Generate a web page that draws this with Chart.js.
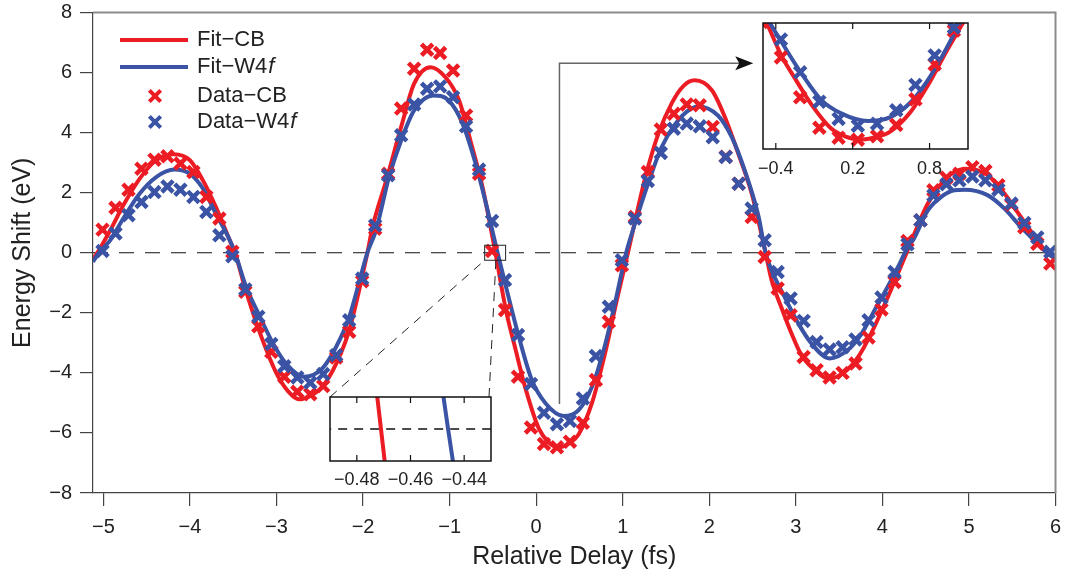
<!DOCTYPE html>
<html>
<head>
<meta charset="utf-8">
<script src="https://cdn.jsdelivr.net/npm/chart.js@4.4.0/dist/chart.umd.min.js"></script>
<style>
  html, body { margin: 0; padding: 0; background: #fff; }
  #wrap { position: relative; width: 1068px; height: 577px; }
  #wrap canvas { position: absolute; }
</style>
</head>
<body>
<div id="wrap">
  <canvas id="main" width="1068" height="577" style="left:0;top:0"></canvas>
  <canvas id="zoomTop" width="250" height="175" style="left:740px;top:10px"></canvas>
  <canvas id="zoomBottom" width="200" height="110" style="left:310px;top:385px"></canvas>
</div>
<script>
// ---- data ----
const delays = [
  -5.01, -4.86, -4.71, -4.56, -4.41, -4.26, -4.11, -3.96, -3.81, -3.66,
  -3.51, -3.36, -3.21, -3.06, -2.91, -2.76, -2.61, -2.46, -2.31, -2.16,
  -2.01, -1.86, -1.71, -1.56, -1.41, -1.26, -1.11, -0.96, -0.81, -0.66,
  -0.51, -0.36, -0.21, -0.06, 0.09, 0.24, 0.39, 0.54, 0.69, 0.84,
  0.99, 1.14, 1.29, 1.44, 1.59, 1.74, 1.89, 2.04, 2.19, 2.34,
  2.49, 2.64, 2.79, 2.94, 3.09, 3.24, 3.39, 3.54, 3.69, 3.84,
  3.99, 4.14, 4.29, 4.44, 4.59, 4.74, 4.89, 5.04, 5.19, 5.34,
  5.49, 5.64, 5.79, 5.94
];
const dataCB = [
  0.77, 1.50, 2.10, 2.80, 3.10, 3.21, 2.97, 2.69, 1.86, 1.14,
  0.03, -1.30, -2.45, -3.30, -4.13, -4.63, -4.71, -4.44, -3.49, -2.63,
  -0.95, 0.80, 2.63, 4.80, 6.13, 6.76, 6.65, 6.07, 4.57, 2.63,
  0.06, -1.91, -4.13, -5.82, -6.37, -6.48, -6.29, -5.66, -4.24, -2.30,
  -0.42, 1.19, 2.69, 4.10, 4.63, 4.94, 4.91, 4.19, 3.20, 2.30,
  1.19, -0.14, -1.19, -2.08, -3.47, -3.91, -4.15, -4.00, -3.69, -2.82,
  -1.89, -0.97, 0.39, 1.08, 2.08, 2.50, 2.63, 2.85, 2.72, 2.25,
  1.60, 0.85, 0.30, -0.36
];
const dataW4f = [
  0.06, 0.64, 1.25, 1.69, 2.02, 2.21, 2.10, 1.86, 1.36, 0.58,
  -0.12, -1.22, -2.13, -3.04, -3.78, -4.15, -4.33, -4.04, -3.41, -2.25,
  -0.86, 0.91, 2.58, 3.91, 4.94, 5.46, 5.54, 5.18, 4.21, 2.77,
  1.06, -0.91, -2.74, -4.37, -5.33, -5.71, -5.60, -4.85, -3.44, -1.80,
  -0.25, 1.14, 2.39, 3.32, 4.13, 4.30, 4.21, 3.85, 3.19, 2.30,
  1.47, 0.42, -0.64, -1.52, -2.27, -2.97, -3.22, -3.15, -2.89, -2.25,
  -1.49, -0.64, 0.28, 1.08, 1.91, 2.28, 2.41, 2.54, 2.41, 2.10,
  1.64, 0.99, 0.51, 0.03
];

const fitCbX = [
  -5.12, -5.07, -4.92, -4.77, -4.58, -4.39, -4.19, -4.00, -3.85, -3.70, -3.56, -3.48,
  -3.36, -3.23, -3.00, -2.87, -2.74, -2.60, -2.47, -2.31, -2.16, -1.95,
  -1.89, -1.72, -1.56, -1.41, -1.22, -1.05, -0.89, -0.76, -0.62, -0.471,
  -0.35, -0.24, -0.12, 0.03, 0.14, 0.26, 0.38, 0.49, 0.645, 0.80, 0.93, 1.06,
  1.26, 1.41, 1.57, 1.70, 1.83, 2.03, 2.18, 2.335, 2.49, 2.65,
  2.72, 2.83, 2.95, 3.065, 3.22, 3.37, 3.565, 3.72, 3.87, 4.03, 4.18, 4.28,
  4.37, 4.525, 4.68, 4.83, 4.97, 5.22, 5.41, 5.60, 5.79, 5.90, 6.00
];
const fitCbY = [
  -0.20, 0, 0.75, 1.58, 2.47, 3.08, 3.28, 3.08, 2.41, 1.52, 0.55, 0,
  -1.20, -2.36, -4.02, -4.60, -4.88, -4.75, -4.46, -3.69, -2.58, 0,
  0.86, 2.52, 4.19, 5.63, 6.18, 5.85, 5.07, 3.74, 2.19, 0,
  -1.90, -3.20, -4.55, -5.85, -6.30, -6.48, -6.35, -6.05, -5.00, -3.30, -1.60, 0,
  2.50, 3.95, 5.00, 5.55, 5.74, 5.41, 4.52, 3.30, 1.97, 0,
  -0.91, -1.80, -2.69, -3.41, -3.91, -4.19, -3.97, -3.47, -2.69, -1.69, -0.69, 0,
  0.64, 1.64, 2.30, 2.69, 2.80, 2.58, 1.97, 1.19, 0.42, 0, -0.19
];
const fitW4fX = [
  -5.12, -5.05, -4.92, -4.77, -4.58, -4.39, -4.18, -4.00, -3.85, -3.70, -3.54, -3.48,
  -3.35, -3.20, -3.04, -2.89, -2.68, -2.47, -2.31, -2.16, -1.95,
  -1.85, -1.70, -1.56, -1.41, -1.19, -1.01, -0.85, -0.70, -0.57, -0.446,
  -0.33, -0.20, -0.05, 0.11, 0.32, 0.49, 0.645, 0.78, 0.91, 1.04,
  1.145, 1.30, 1.45, 1.61, 1.74, 1.87, 2.10, 2.26, 2.41, 2.57, 2.65,
  2.72, 2.87, 3.03, 3.18, 3.39, 3.60, 3.76, 3.91, 4.06, 4.20, 4.26,
  4.37, 4.525, 4.68, 4.83, 4.95, 5.22, 5.41, 5.60, 5.79, 5.90, 6.00
];
const fitW4fY = [
  -0.30, 0, 0.42, 1.14, 1.97, 2.52, 2.77, 2.63, 2.14, 1.30, 0.42, 0,
  -1.14, -2.08, -3.02, -3.69, -4.13, -3.85, -3.13, -2.14, 0,
  0.75, 2.52, 3.74, 4.74, 5.24, 5.07, 4.30, 2.97, 1.52, 0,
  -1.35, -2.80, -4.24, -5.02, -5.44, -5.24, -4.46, -3.24, -1.69, 0,
  1.00, 2.36, 3.52, 4.30, 4.70, 4.87, 4.57, 3.85, 2.74, 1.20, 0,
  -0.58, -1.47, -2.36, -3.02, -3.52, -3.24, -2.69, -1.91, -1.14, -0.36, 0,
  0.50, 1.41, 1.86, 2.08, 2.10, 1.91, 1.47, 0.86, 0.31, 0, -0.20
];

const zeroX = [-5.12, 6];
const zeroY = [0, 0];

const xTicks = [-5, -4, -3, -2, -1, 0, 1, 2, 3, 4, 5, 6];
const yTicks = [-8, -6, -4, -2, 0, 2, 4, 6, 8];
const zoomTopTicks = [-0.4, 0.2, 0.8];
const zoomBottomTicks = [-0.48, -0.46, -0.44];

const legendLabels = ['Fit\u2212CB', 'Fit\u2212W4', 'Data\u2212CB', 'Data\u2212W4'];
const legendItalic = ['', 'f', '', 'f'];

// annotation anchors (data units of the main plot)
const boxX = [-0.595, -0.353];
const boxY = [-0.25, 0.25];
const arrowX = [0.269, 0.269, 2.508];
const arrowY = [-5.04, 6.31, 6.31];
const connectorEndX = -0.465;

// ---- styling ----
const RED = '#ec1c24';
const BLUE = '#3a53a4';
const FONT = "'Liberation Sans', Arial, Helvetica, sans-serif";
Chart.defaults.font.family = FONT;
Chart.defaults.color = '#222';
Chart.defaults.animation = false;

const minus = s => s.replace('-', '\u2212');
const pts = (xs, ys) => xs.map((x, i) => ({ x: x, y: ys[i] }));
// keep the plot box where the figure has it: no extra room for overhanging labels
const noOverhang = s => { s.paddingTop = 0; s.paddingBottom = 0; s.paddingLeft = 0; s.paddingRight = 0; };

function fitSet(label, xs, ys, color, order) {
  return {
    label: label, data: pts(xs, ys), showLine: true, pointRadius: 0,
    borderColor: color, borderWidth: 4, cubicInterpolationMode: 'monotone',
    order: order, clip: 0
  };
}
function dotSet(label, ys, color, order) {
  return {
    label: label, data: pts(delays, ys), showLine: false,
    pointStyle: 'crossRot', pointRadius: 8, pointBorderWidth: 4.5,
    pointBorderColor: color, pointBackgroundColor: color,
    order: order, clip: 0
  };
}
function zeroSet(dash, width) {
  return {
    label: 'zero', data: pts(zeroX, zeroY), showLine: true, pointRadius: 0,
    borderColor: '#111', borderWidth: width, borderDash: dash, order: 9
  };
}

// white plot area + black box with inward ticks for the insets
const insetFrame = {
  id: 'insetFrame',
  beforeDraw(chart) {
    const a = chart.chartArea, ctx = chart.ctx;
    ctx.save();
    ctx.fillStyle = '#fff';
    ctx.fillRect(a.left, a.top, a.right - a.left, a.bottom - a.top);
    ctx.restore();
  },
  afterDraw(chart) {
    const a = chart.chartArea, ctx = chart.ctx, sx = chart.scales.x;
    ctx.save();
    ctx.strokeStyle = '#111';
    ctx.lineWidth = 1.5;
    ctx.strokeRect(a.left, a.top, a.right - a.left, a.bottom - a.top);
    ctx.lineWidth = 1.2;
    sx.ticks.forEach(t => {
      const px = sx.getPixelForValue(t.value);
      ctx.beginPath();
      ctx.moveTo(px, a.bottom); ctx.lineTo(px, a.bottom - 6);
      ctx.moveTo(px, a.top); ctx.lineTo(px, a.top + 6);
      ctx.stroke();
    });
    ctx.restore();
  }
};

function insetOptions(xmin, xmax, ymin, ymax, ticks, digits, pad, axisH, tickPad) {
  return {
    responsive: false, devicePixelRatio: 1, events: [],
    layout: { padding: pad },
    plugins: { legend: { display: false }, tooltip: { enabled: false } },
    scales: {
      x: {
        type: 'linear', min: xmin, max: xmax,
        afterBuildTicks: s => { s.ticks = ticks.map(v => ({ value: v })); },
        afterFit: s => { s.height = axisH; noOverhang(s); },
        ticks: { font: { size: 18 }, color: '#222', padding: tickPad, maxRotation: 0,
                 callback: v => minus(v.toFixed(digits)) },
        grid: { display: false, drawTicks: false },
        border: { display: false }
      },
      y: { type: 'linear', min: ymin, max: ymax, display: false }
    }
  };
}

// ---- inset, upper right ----
const zoomTop = new Chart(document.getElementById('zoomTop'), {
  type: 'scatter',
  data: { datasets: [
    dotSet('Data\u2212W4f', dataW4f, BLUE, 1),
    dotSet('Data\u2212CB', dataCB, RED, 2),
    fitSet('Fit\u2212W4f', fitW4fX, fitW4fY, BLUE, 3),
    fitSet('Fit\u2212CB', fitCbX, fitCbY, RED, 4)
  ] },
  options: insetOptions(-0.5, 1.1, -7, 0, zoomTopTicks, 1,
    { left: 23, right: 22, top: 13, bottom: 0 }, 36, 9),
  plugins: [insetFrame]
});

// ---- inset, lower middle ----
const zoomBottom = new Chart(document.getElementById('zoomBottom'), {
  type: 'scatter',
  data: { datasets: [
    fitSet('Fit\u2212W4f', fitW4fX, fitW4fY, BLUE, 3),
    fitSet('Fit\u2212CB', fitCbX, fitCbY, RED, 4),
    zeroSet([9, 7], 1.5)
  ] },
  options: insetOptions(-0.49, -0.43, -0.021, 0.021, zoomBottomTicks, 2,
    { left: 20, right: 19, top: 12, bottom: 0 }, 34, 8),
  plugins: [insetFrame]
});

// frame, legend, zoom box, connectors and arrow on the main plot
const decor = {
  id: 'decor',
  afterDraw(chart) {
    const { ctx, chartArea: a } = chart;
    const sx = chart.scales.x, sy = chart.scales.y;
    ctx.save();

    ctx.strokeStyle = '#8c8c8c';
    ctx.lineWidth = 2;
    ctx.beginPath();
    ctx.moveTo(a.left, a.top); ctx.lineTo(a.right, a.top); ctx.lineTo(a.right, a.bottom);
    ctx.stroke();

    // small box around the zero crossing
    const bl = sx.getPixelForValue(boxX[0]), br = sx.getPixelForValue(boxX[1]);
    const bt = sy.getPixelForValue(boxY[1]), bb = sy.getPixelForValue(boxY[0]);
    ctx.strokeStyle = '#222';
    ctx.lineWidth = 1;
    ctx.strokeRect(bl, bt, br - bl, bb - bt);

    // dashed connectors to the lower inset
    const za = zoomBottom.chartArea;
    const zc = zoomBottom.canvas;
    const ox = zc.offsetLeft, oy = zc.offsetTop;
    ctx.setLineDash([9, 7]);
    ctx.beginPath();
    ctx.moveTo(ox + za.left, oy + za.top); ctx.lineTo(bl, bb);
    ctx.moveTo(ox + za.right - 2, oy + za.top); ctx.lineTo(sx.getPixelForValue(connectorEndX), bb);
    ctx.stroke();
    ctx.setLineDash([]);

    // arrow to the upper inset
    const ax = arrowX.map(v => sx.getPixelForValue(v));
    const ay = arrowY.map(v => sy.getPixelForValue(v));
    ctx.strokeStyle = '#666';
    ctx.lineWidth = 1.5;
    ctx.beginPath();
    ctx.moveTo(ax[0], ay[0]); ctx.lineTo(ax[1], ay[1]); ctx.lineTo(ax[2] - 12, ay[2]);
    ctx.stroke();
    ctx.fillStyle = '#111';
    ctx.beginPath();
    ctx.moveTo(ax[2], ay[2]);
    ctx.lineTo(ax[2] - 18, ay[2] - 7);
    ctx.lineTo(ax[2] - 14, ay[2]);
    ctx.lineTo(ax[2] - 18, ay[2] + 7);
    ctx.closePath();
    ctx.fill();

    // legend
    const rows = [40, 67, 96, 122];
    const colors = [RED, BLUE, RED, BLUE];
    rows.forEach((ry, i) => {
      ctx.strokeStyle = colors[i];
      if (i < 2) {
        ctx.lineWidth = 4;
        ctx.beginPath(); ctx.moveTo(120, ry); ctx.lineTo(188, ry); ctx.stroke();
      } else {
        Chart.helpers.drawPoint(ctx, { pointStyle: 'crossRot', radius: 8, borderWidth: 4.5 }, 155, ry);
      }
      ctx.fillStyle = '#222';
      ctx.textBaseline = 'middle';
      ctx.textAlign = 'left';
      ctx.font = '22px ' + FONT;
      ctx.fillText(legendLabels[i], 197, ry);
      if (legendItalic[i]) {
        const w = ctx.measureText(legendLabels[i]).width;
        ctx.font = 'italic 22px ' + FONT;
        ctx.fillText(legendItalic[i], 197 + w + 1, ry);
      }
    });
    ctx.restore();
  }
};

// ---- main plot ----
new Chart(document.getElementById('main'), {
  type: 'scatter',
  data: { datasets: [
    dotSet('Data\u2212W4f', dataW4f, BLUE, 1),
    dotSet('Data\u2212CB', dataCB, RED, 2),
    fitSet('Fit\u2212W4f', fitW4fX, fitW4fY, BLUE, 3),
    fitSet('Fit\u2212CB', fitCbX, fitCbY, RED, 4),
    zeroSet([15, 11], 1.2)
  ] },
  options: {
    responsive: false, devicePixelRatio: 1, events: [],
    layout: { padding: { top: 12, right: 10, left: 0, bottom: 0 } },
    plugins: { legend: { display: false }, tooltip: { enabled: false } },
    scales: {
      x: {
        type: 'linear', min: -5.12, max: 6,
        afterBuildTicks: s => { s.ticks = xTicks.map(v => ({ value: v })); },
        afterFit: s => { s.height = 84; noOverhang(s); },
        ticks: { font: { size: 20 }, color: '#222', padding: 9, maxRotation: 0,
                 callback: v => minus(String(v)) },
        grid: { drawOnChartArea: false, drawTicks: true, tickLength: 13, color: '#444', lineWidth: 1.2 },
        border: { display: true, color: '#444', width: 1.2 },
        title: { display: true, text: 'Relative Delay (fs)', font: { size: 25 }, color: '#222',
                 padding: { top: 0, bottom: 5 } }
      },
      y: {
        type: 'linear', min: -8, max: 8,
        afterBuildTicks: s => { s.ticks = yTicks.map(v => ({ value: v })); },
        afterFit: s => { s.width = 93; noOverhang(s); },
        ticks: { font: { size: 20 }, color: '#222', padding: 8,
                 callback: v => minus(String(v)) },
        grid: { drawOnChartArea: false, drawTicks: true, tickLength: 13, color: '#444', lineWidth: 1.2 },
        border: { display: true, color: '#444', width: 1.2 },
        title: { display: true, text: 'Energy Shift (eV)', font: { size: 25 }, color: '#222',
                 padding: { top: 8, bottom: 0 } }
      }
    }
  },
  plugins: [decor]
});
</script>
</body>
</html>
